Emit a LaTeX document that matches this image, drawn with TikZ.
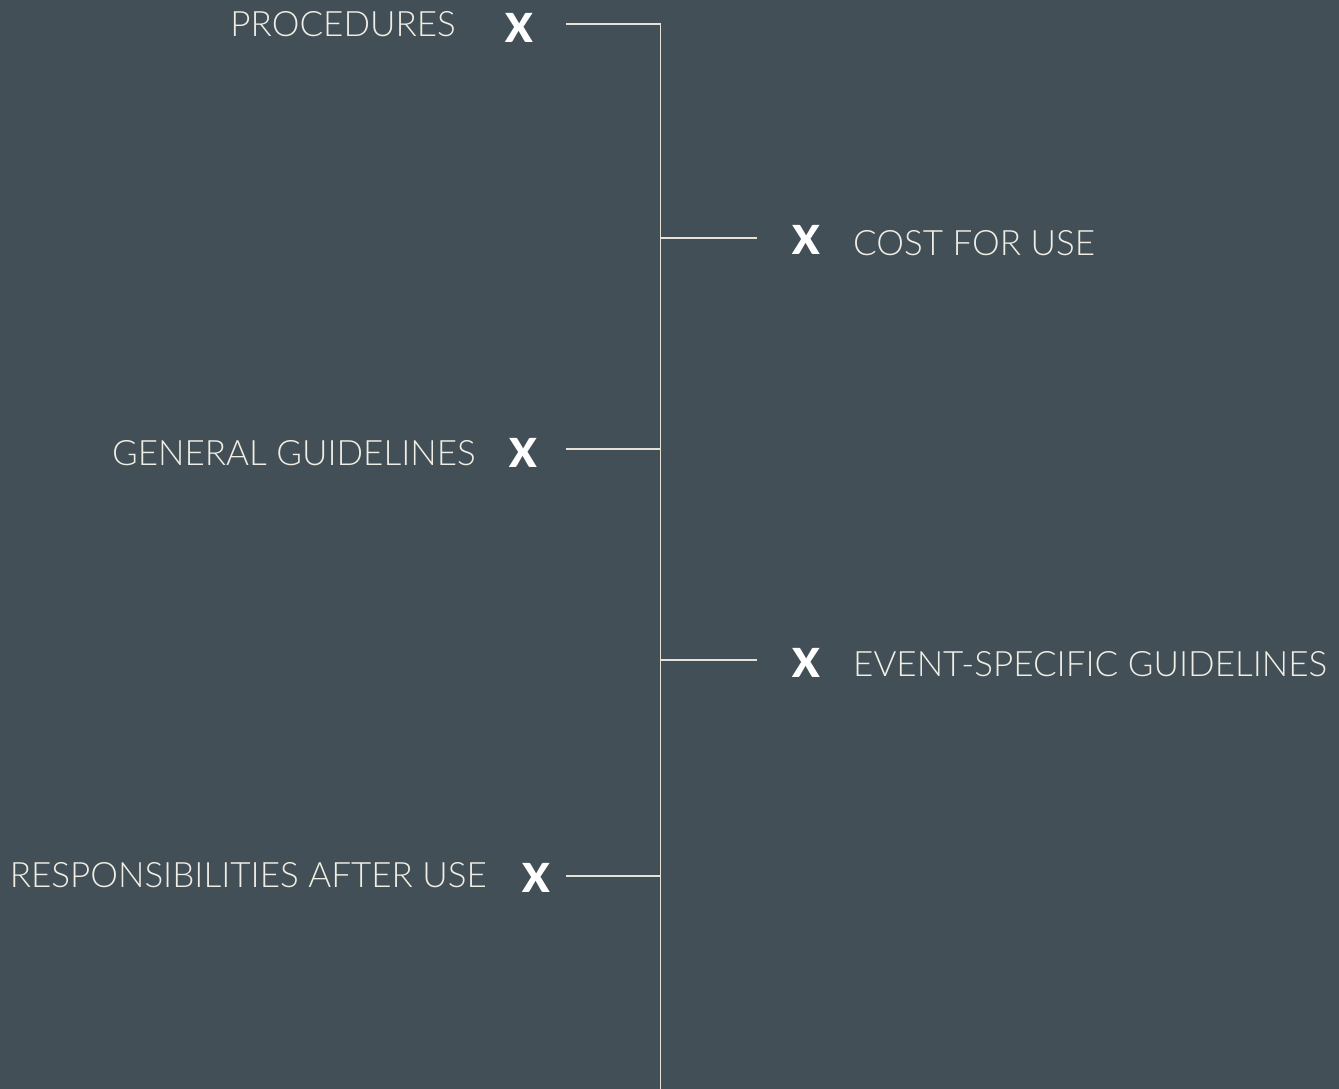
\documentclass[tikz,border=0pt]{standalone}
\usepackage{fontspec}
\setmainfont{Lato}[UprightFont=* Light, BoldFont=* Bold]
\newfontfamily\xfont{Lato}[UprightFont=* Black]
\definecolor{bg}{HTML}{424F56}
\definecolor{txt}{HTML}{F0EDE4}
\definecolor{ln}{HTML}{E6E2D8}
\begin{document}
\begin{tikzpicture}[x=1pt,y=-1pt,
  lbl/.style={inner sep=0pt, text=txt, font=\fontsize{35}{35}\selectfont},
  xmark/.style={inner sep=0pt, text=white, font=\fontsize{40}{40}\selectfont\xfont},
  conn/.style={draw=ln, line width=1.2pt}]
\fill[bg] (0,0) rectangle (1339,1089);
\useasboundingbox (0,0) rectangle (1339,1089);
% spine
\coordinate (top) at (660.5,24);
\coordinate (bot) at (660.5,1089);
\draw[conn] (top) -- (bot);
% left items
\node[lbl, anchor=base east] (t1) at (456,37) {PROCEDURES};
\node[xmark, anchor=base] (x1) at (519.5,43) {X};
\coordinate (l1) at (566,24);
\coordinate (j1) at (660.5,24);
\draw[conn] (l1) -- (j1);

\node[lbl, anchor=base east] (t3) at (476,465) {GENERAL GUIDELINES};
\node[xmark, anchor=base] (x3) at (523.5,467) {X};
\coordinate (l3) at (566,449);
\coordinate (j3) at (660.5,449);
\draw[conn] (l3) -- (j3);

\node[lbl, anchor=base east] (t5) at (487,887) {RESPONSIBILITIES AFTER USE};
\node[xmark, anchor=base] (x5) at (536,892) {X};
\coordinate (l5) at (566,876);
\coordinate (j5) at (660.5,876);
\draw[conn] (l5) -- (j5);

% right items
\node[xmark, anchor=base] (x2) at (806,254) {X};
\node[lbl, anchor=base west] (t2) at (853,255) {COST FOR USE};
\coordinate (j2) at (660.5,238);
\coordinate (r2) at (757,238);
\draw[conn] (j2) -- (r2);

\node[xmark, anchor=base] (x4) at (806,677) {X};
\node[lbl, anchor=base west] (t4) at (853,676) {EVENT-SPECIFIC GUIDELINES};
\coordinate (j4) at (660.5,660);
\coordinate (r4) at (757,660);
\draw[conn] (j4) -- (r4);
\end{tikzpicture}
\end{document}
